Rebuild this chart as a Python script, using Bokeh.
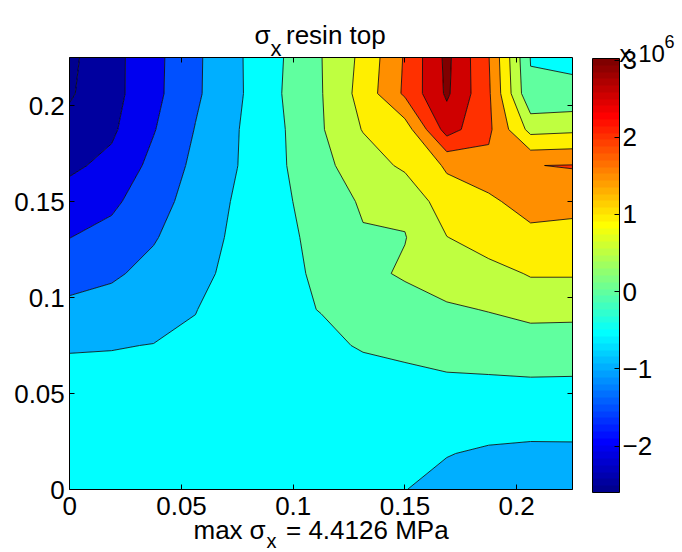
from bokeh.plotting import figure
from bokeh.models import (ColorBar, LinearColorMapper, LinearAxis, FixedTicker,
                          Label, Range1d, CustomJSTickFormatter)
from bokeh.embed import file_html
from bokeh.resources import INLINE

# ---- data (stress, units of 1e6 Pa) ----
x_grid = [0.0, 0.01875, 0.0375, 0.05625, 0.075, 0.09375, 0.1125, 0.13125,
          0.15, 0.16875, 0.1875, 0.20625, 0.225]
y_grid = [0.0, 0.01875, 0.0375, 0.05625, 0.075, 0.09375, 0.1125, 0.13125,
          0.15, 0.16875, 0.1875, 0.20625, 0.225]
# rows from y = 0 (bottom) to y = 0.225 (top)
sigma_rows = [
    [-0.27, -0.28, -0.30, -0.32, -0.33, -0.34, -0.35, -0.38, -0.49, -0.66, -0.70, -0.75, -0.75],
    [-0.27, -0.28, -0.30, -0.31, -0.31, -0.32, -0.32, -0.34, -0.40, -0.48, -0.575, -0.60, -0.59],
    [-0.28, -0.30, -0.33, -0.33, -0.30, -0.28, -0.28, -0.30, -0.30, -0.30, -0.25, -0.30, -0.31],
    [-0.32, -0.38, -0.40, -0.37, -0.30, -0.25, -0.25, -0.26, -0.09, -0.035, -0.06, -0.015, -0.01],
    [-0.55, -0.52, -0.49, -0.44, -0.27, -0.20, -0.15, 0.06, 0.08, 0.10, 0.25, 0.11, 0.06],
    [-0.88, -0.81, -0.67, -0.51, -0.32, -0.15, 0.02, 0.148, 0.22, 0.44, 0.52, 0.74, 0.74],
    [-1.19, -1.07, -0.86, -0.61, -0.38, -0.15, 0.087, 0.336, 0.58, 0.725, 0.86, 1.03, 1.03],
    [-1.505, -1.34, -1.04, -0.70, -0.41, -0.116, 0.12, 0.457, 0.48, 0.99, 1.20, 1.33, 1.165],
    [-1.80, -1.60, -1.20, -0.80, -0.44, -0.11, 0.23, 0.56, 0.605, 1.29, 1.39, 1.75, 1.80],
    [-2.087, -1.875, -1.36, -0.89, -0.505, -0.082, 0.377, 0.74, 1.095, 1.56, 1.86, 1.99, 2.02],
    [-2.35, -2.08, -1.53, -0.98, -0.52, -0.077, 0.455, 1.026, 1.25, 2.71, 2.10, 0.84, 0.90],
    [-2.55, -2.17, -1.64, -1.08, -0.58, -0.03, 0.473, 1.19, 2.086, 3.08, 2.075, 0.063, 0.10],
    [-2.60, -2.17, -1.65, -1.09, -0.57, -0.056, 0.486, 1.125, 2.05, 3.12, 2.02, -0.02, -0.09],
]
contour_levels = [-2.7, -2.5, -2.0, -1.5, -1.0, -0.5, 0.0, 0.5, 1.0, 1.5, 2.0, 2.5, 3.0, 3.2]
x_ticks = [0.0, 0.05, 0.1, 0.15, 0.2]
y_ticks = [0.0, 0.05, 0.1, 0.15, 0.2]
cbar_ticks = [-2, -1, 0, 1, 2, 3]
clim = (-2.6, 3.02)
title_parts = ["σ", "x", "resin top"]
xlabel_parts = ["max", "σ", "x", "= 4.4126 MPa"]
exp_parts = ["x 10", "6"]

FONT = "Liberation Sans"

# ---- layout (pixels on the 682 x 552 canvas) ----
W, H = 682, 552
AX_L, AX_R, AX_T, AX_B = 69.3, 572.0, 57.0, 489.0
XMAX = YMAX = 0.225
kx = (AX_R - AX_L) / XMAX
ky = (AX_B - AX_T) / YMAX


def jet(m=64):
    n = 16
    u = [k / n for k in range(1, n + 1)] + [1.0] * (n - 1) + [k / n for k in range(n, 0, -1)]
    rows = [[0.0, 0.0, 0.0] for _ in range(m)]
    for k, val in enumerate(u):
        gi = 8 + k + 1
        ri = gi + n
        bi = gi - n
        if ri <= m:
            rows[ri - 1][0] = val
        if 1 <= gi <= m:
            rows[gi - 1][1] = val
        if bi >= 1:
            rows[bi - 1][2] = val
    return ["#%02x%02x%02x" % tuple(int(round(c * 255)) for c in r) for r in rows]


jet64 = jet(64)
zmin = min(min(r) for r in sigma_rows)


def level_color(v):
    idx = int((v - clim[0]) / (clim[1] - clim[0]) * 64)
    return jet64[max(0, min(63, idx))]


band_colors = [level_color(max(lv, zmin)) for lv in contour_levels[:-1]]

p = figure(width=W, height=H,
           x_range=Range1d(-AX_L / kx, (W - AX_L) / kx),
           y_range=Range1d(-(H - AX_B) / ky, YMAX + AX_T / ky),
           output_backend="svg", toolbar_location=None,
           min_border_left=0, min_border_right=0, min_border_top=0, min_border_bottom=0)
p.grid.visible = False
p.outline_line_color = None
p.background_fill_color = "white"
p.border_fill_color = "white"

p.contour(x_grid, y_grid, sigma_rows, contour_levels, fill_color=band_colors,
          line_color="black", line_width=0.8)

fmt = CustomJSTickFormatter(code="return tick.toString()")
blank = CustomJSTickFormatter(code="return ''")


def style_axis(ax, ticks, formatter, loc, bounds, labels=True):
    ax.fixed_location = loc
    ax.bounds = bounds
    ax.ticker = FixedTicker(ticks=ticks)
    ax.formatter = formatter
    ax.minor_tick_line_color = None
    ax.major_tick_in = 5
    ax.major_tick_out = 0
    ax.major_tick_line_color = "black"
    ax.axis_line_color = "black"
    ax.axis_line_width = 1
    ax.major_label_text_font = FONT
    ax.major_label_text_font_size = "26px" if labels else "1px"
    ax.major_label_text_color = "black"


style_axis(p.xaxis[0], x_ticks, fmt, 0.0, (0.0, XMAX))
p.xaxis[0].major_label_standoff = 7
style_axis(p.yaxis[0], y_ticks, fmt, 0.0, (0.0, YMAX))
p.yaxis[0].major_label_standoff = 5

top_ax = LinearAxis()
style_axis(top_ax, x_ticks, blank, YMAX, (0.0, XMAX), labels=False)
p.add_layout(top_ax, "above")
right_ax = LinearAxis()
style_axis(right_ax, y_ticks, blank, XMAX, (0.0, YMAX), labels=False)
p.add_layout(right_ax, "right")

mapper = LinearColorMapper(palette=jet64, low=clim[0], high=clim[1])
cb_fmt = CustomJSTickFormatter(code="return tick < 0 ? '\u2212' + Math.abs(tick) : tick.toString()")
CB_L, CB_T, CB_B = 592, 58, 492
cbar = ColorBar(color_mapper=mapper, ticker=FixedTicker(ticks=cbar_ticks), formatter=cb_fmt,
                width=27, height=CB_B - CB_T, padding=0, margin=0,
                location=(CB_L, H - CB_B),
                bar_line_color="black", major_tick_line_color="black",
                major_tick_in=5, major_tick_out=0, minor_tick_line_color=None,
                major_label_text_font=FONT, major_label_text_font_size="26px",
                major_label_text_color="black",
                label_standoff=3, background_fill_color=None, border_line_color=None)
p.add_layout(cbar)


def add_text(text, px, base_py, size="26px"):
    p.add_layout(Label(x=px, y=H - base_py, x_units="screen", y_units="screen",
                       text=text, text_font=FONT, text_font_size=size, text_color="black",
                       text_baseline="alphabetic", text_align="left"))


add_text(title_parts[0], 254, 34)
add_text(title_parts[1], 270, 48, "22px")
add_text(title_parts[2], 285.5, 34)
add_text(xlabel_parts[0], 193, 529)
add_text(xlabel_parts[1], 249, 529)
add_text(xlabel_parts[2], 266, 540, "20px")
add_text(xlabel_parts[3], 285.5, 529)
add_text(exp_parts[0], 619, 53, "24px")
add_text(exp_parts[1], 664, 41, "18px")

open("out.html", "w").write(file_html(p, INLINE))
